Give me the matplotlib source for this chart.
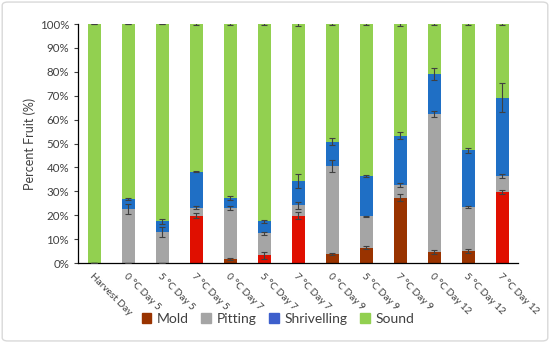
import matplotlib
matplotlib.use("Agg")
import matplotlib.pyplot as plt
from matplotlib.patches import FancyBboxPatch, Patch
import numpy as np

categories = ["Harvest Day", "0 °C Day 5", "5 °C Day 5", "7 °C Day 5", "0 °C Day 7",
              "5 °C Day 7", "7 °C Day 7", "0 °C Day 9", "5 °C Day 9", "7 °C Day 9",
              "0 °C Day 12", "5 °C Day 12", "7 °C Day 12"]
mold = [0, 0, 0, 19.8, 1.7, 3.3, 19.8, 3.8, 6.5, 27.4, 4.6, 4.9, 29.9]
pitting = [0, 22.7, 13.0, 3.3, 21.3, 9.2, 4.3, 36.9, 13.0, 5.3, 57.7, 18.5, 6.6]
shrivelling = [0, 4.0, 4.4, 15.1, 4.2, 4.9, 10.3, 10.1, 17.0, 20.5, 16.8, 23.7, 32.7]
mold_err = [0, 0, 0, 1.0, 0.5, 1.5, 1.5, 0.5, 0.5, 1.5, 0.8, 0.8, 0.8]
pitting_err = [0, 2.2, 2.0, 0.6, 1.0, 0.7, 1.5, 2.5, 0.3, 1.0, 1.2, 0.5, 0.8]
shrivelling_err = [0, 0.5, 1.0, 0.3, 1.0, 0.8, 3.0, 1.5, 0.5, 1.5, 2.5, 1.0, 6.0]
sound_err = [0, 0, 0, 0.5, 0.3, 0.5, 1.0, 0.3, 0.3, 0.8, 0.3, 0.3, 0.3]

mold = np.array(mold); pitting = np.array(pitting); shrivelling = np.array(shrivelling)
sound = 100 - mold - pitting - shrivelling

plt.rcParams['font.family'] = ['Lato', 'DejaVu Sans']

fig = plt.figure(figsize=(5.5, 3.43), dpi=100)
fig.patches.append(FancyBboxPatch((0.004, 0.006), 0.992, 0.988, boxstyle="round,pad=0,rounding_size=0.01",
                                  transform=fig.transFigure, facecolor='none', edgecolor='#d9d9d9', lw=1))
ax = fig.add_axes([0.142, 0.233, 0.8, 0.697])

x = np.arange(len(categories))
w = 0.38
c_mold = '#993300'
c_mold_hi = '#e00f00'
mold_colors = [c_mold_hi if i in (3, 5, 6, 12) else c_mold for i in range(len(categories))]
ekw = dict(ecolor='#404040', elinewidth=0.8, capsize=2.5, capthick=0.8)

ax.bar(x, mold, w, color=mold_colors, label='Mold', zorder=2)
ax.bar(x, pitting, w, bottom=mold, color='#a5a5a5', label='Pitting', zorder=2)
ax.bar(x, shrivelling, w, bottom=mold + pitting, color='#1f6fc5', label='Shrivelling', zorder=2)
ax.bar(x, sound, w, bottom=mold + pitting + shrivelling, color='#92d050', label='Sound', zorder=2)

ax.errorbar(x, mold, yerr=mold_err, fmt='none', zorder=3, **ekw)
ax.errorbar(x, mold + pitting, yerr=pitting_err, fmt='none', zorder=3, **ekw)
ax.errorbar(x, mold + pitting + shrivelling, yerr=shrivelling_err, fmt='none', zorder=3, **ekw)
ax.errorbar(x, np.full(len(x), 100.0), yerr=sound_err, fmt='none', zorder=3, **ekw)

ax.set_xlim(-0.47, len(categories) - 0.53)
ax.set_ylim(0, 100)
ax.set_yticks(np.arange(0, 101, 10))
ax.set_yticklabels([f"{v}%" for v in range(0, 101, 10)], fontsize=8.3, color='#404040')
ax.set_xticks(x)
ax.set_xticklabels(categories, rotation=-45, ha='left', va='top', rotation_mode='anchor',
                   fontsize=7.2, color='#404040')
ax.tick_params(axis='x', length=0, pad=6)
ax.tick_params(axis='y', length=3, width=0.8, color='#404040')
for s in ['top', 'right']:
    ax.spines[s].set_visible(False)
for s in ['left', 'bottom']:
    ax.spines[s].set_color('#000000')
    ax.spines[s].set_linewidth(0.9)
ax.set_ylabel('Percent Fruit (%)', fontsize=9, color='#404040', labelpad=3)

handles = [Patch(color=c_mold), Patch(color='#a5a5a5'), Patch(color='#3d5fcc'), Patch(color='#92d050')]
fig.legend(handles, ['Mold', 'Pitting', 'Shrivelling', 'Sound'], loc='center', bbox_to_anchor=(0.505, 0.07),
           ncol=4, frameon=False, fontsize=10, handlelength=0.7, handleheight=0.7, handletextpad=0.4,
           columnspacing=0.9, labelcolor='#404040')

fig.savefig('out.png', dpi=100)
